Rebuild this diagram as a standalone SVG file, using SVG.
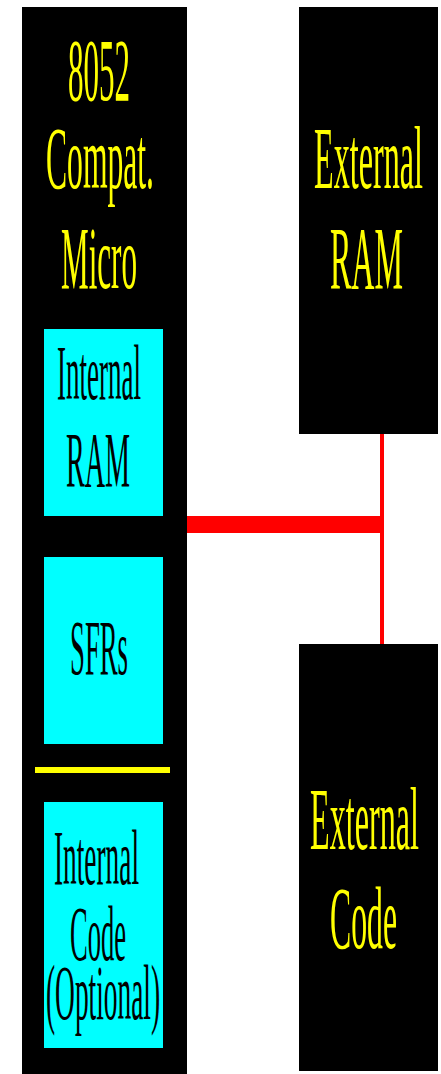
<svg xmlns="http://www.w3.org/2000/svg" width="441" height="1074" viewBox="0 0 441 1074">
<style>
.blk{fill:#000}
.cy{fill:#00ffff}
.yt{fill:#ffff00;font-family:"Liberation Serif",serif;font-size:88px}
.bt{fill:#000;font-family:"Liberation Serif",serif;font-size:79px}
</style>
<rect width="441" height="1074" fill="#fff"/>
<g id="connectors">
<rect x="185" y="516" width="198" height="17" fill="#ff0000"/>
<rect x="380" y="434" width="4" height="216" fill="#ff0000"/>
</g>
<g id="micro">
<rect class="blk" x="22" y="7" width="165" height="1067"/>
<text class="yt" x="68" y="100" textLength="62" lengthAdjust="spacingAndGlyphs">8052</text>
<text class="yt" x="46" y="188" textLength="108" lengthAdjust="spacingAndGlyphs">Compat.</text>
<text class="yt" x="61" y="288" textLength="76" lengthAdjust="spacingAndGlyphs">Micro</text>
</g>
<g id="internal-ram">
<rect class="cy" x="44" y="329" width="119" height="187"/>
<text class="bt" x="57" y="399" textLength="84" lengthAdjust="spacingAndGlyphs">Internal</text>
<text class="bt" x="66" y="486" textLength="64" lengthAdjust="spacingAndGlyphs">RAM</text>
</g>
<g id="sfrs">
<rect class="cy" x="44" y="557" width="119" height="187"/>
<text class="bt" x="70" y="674" textLength="58" lengthAdjust="spacingAndGlyphs">SFRs</text>
</g>
<g id="divider">
<rect x="35" y="767" width="135" height="6" fill="#ffff00"/>
</g>
<g id="internal-code">
<rect class="cy" x="44" y="802" width="119" height="246"/>
<text class="bt" x="54" y="884" textLength="85" lengthAdjust="spacingAndGlyphs">Internal</text>
<text class="bt" x="70" y="960" textLength="56" lengthAdjust="spacingAndGlyphs">Code</text>
<text class="bt" x="46" y="1019" textLength="114" lengthAdjust="spacingAndGlyphs">(Optional)</text>
</g>
<g id="external-ram">
<rect class="blk" x="299" y="7" width="139" height="427"/>
<text class="yt" x="314" y="188" textLength="109" lengthAdjust="spacingAndGlyphs">External</text>
<text class="yt" x="330" y="288" textLength="73" lengthAdjust="spacingAndGlyphs">RAM</text>
</g>
<g id="external-code">
<rect class="blk" x="299" y="644" width="139" height="427"/>
<text class="yt" x="310" y="849" textLength="109" lengthAdjust="spacingAndGlyphs">External</text>
<text class="yt" x="330" y="948" textLength="67" lengthAdjust="spacingAndGlyphs">Code</text>
</g>
</svg>
